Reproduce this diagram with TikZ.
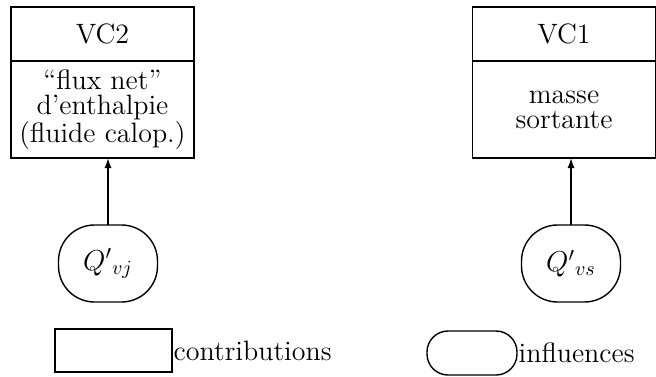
\documentclass[tikz,border=0pt]{standalone}
\usepackage{amsmath,amssymb}
\usepackage{tikz}
\usetikzlibrary{arrows.meta, positioning}

\begin{document}
\begin{tikzpicture}[x=1pt, y=1pt, font=\fontsize{14}{12.5}\selectfont,
    >={Latex[length=5pt, width=3.5pt]}, line width=0.7pt,
    head/.style={draw, outer sep=0pt, minimum width=91.5pt, minimum height=27pt, inner sep=2pt},
    body/.style={draw, outer sep=0pt, minimum width=91.5pt, minimum height=48.5pt, align=center, inner sep=2pt},
    infl/.style={draw, outer sep=0pt, rounded corners=18pt, minimum width=49.5pt, minimum height=38.5pt, inner sep=2pt}]
    \useasboundingbox (0,0) rectangle (328,188);
    % volumes de controle
    \node[head] (vc2) at (51.25,171) {VC2};
    \node[body, below=0pt of vc2] (vc2body) {``flux net''\\d'enthalpie\\(fluide calop.)};
    \node[head] (vc1) at (282,171) {VC1};
    \node[body, below=0pt of vc1] (vc1body) {masse\\sortante};
    % influences
    \node[infl] (qvj) at (54,56.25) {$Q'{}_{vj}$};
    \node[infl] (qvs) at (285.5,56.25) {$Q'{}_{vs}$};
    \draw[->] (qvj.north) -- (qvj.north |- vc2body.south);
    \draw[->] (qvs.north) -- (qvs.north |- vc1body.south);
    % legende
    \node[draw, outer sep=0pt, minimum width=58.5pt, minimum height=21.5pt] (legbox) at (56.75,12.75) {};
    \node[right=0.5pt of legbox, inner sep=0pt] (legboxtxt) {contributions};
    \node[draw, outer sep=0pt, rounded corners=10.5pt, minimum width=45pt, minimum height=22pt] (leginf) at (236,11.5) {};
    \node[right=0.5pt of leginf, inner sep=0pt] (leginftxt) {influences};
\end{tikzpicture}
\end{document}
